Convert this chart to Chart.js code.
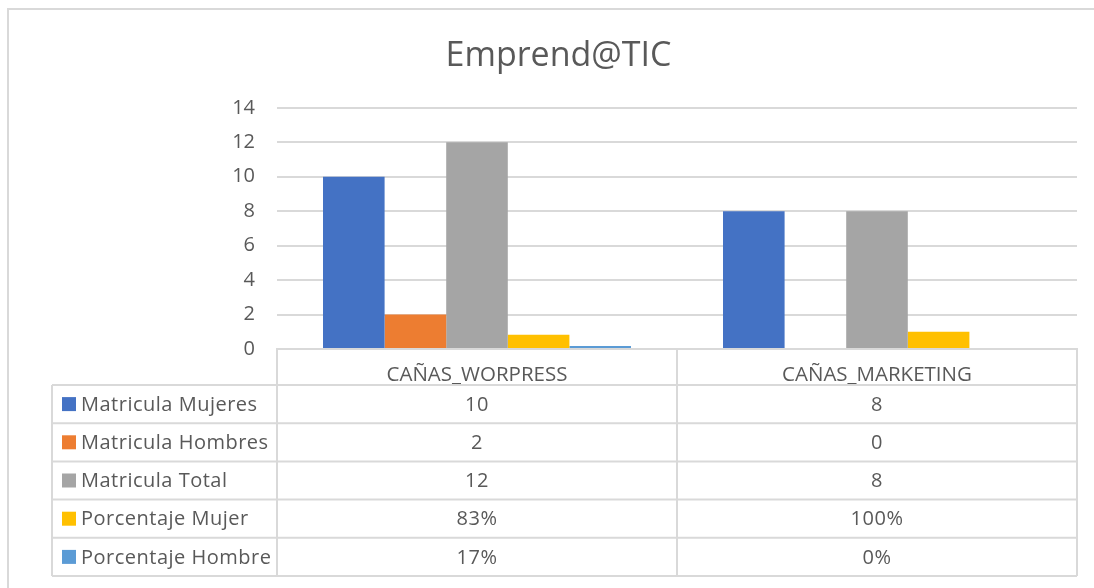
<!DOCTYPE html>
<html>
<head>
<meta charset="utf-8">
<script src="https://cdn.jsdelivr.net/npm/chart.js@4"></script>
<style>
  html, body { margin: 0; padding: 0; background: #fff; }
  #wrap { width: 1094px; height: 588px; }
</style>
</head>
<body>
<div id="wrap"><canvas id="myChart" width="1094" height="588"></canvas></div>
<script>
// Start Data
const categories = ['CAÑAS_WORPRESS', 'CAÑAS_MARKETING'];
const seriesNames = ['Matricula Mujeres', 'Matricula Hombres', 'Matricula Total', 'Porcentaje Mujer', 'Porcentaje Hombre'];
const matriculaMujeres = [10, 8];
const matriculaHombres = [2, 0];
const matriculaTotal = [12, 8];
const porcentajeMujer = [0.83, 1];
const porcentajeHombre = [0.17, 0];
const yTicks = [0, 2, 4, 6, 8, 10, 12, 14];
// !!End Data

const colors = ['#4472C4', '#ED7D31', '#A5A5A5', '#FFC000', '#5B9BD5'];
const seriesValues = [matriculaMujeres, matriculaHombres, matriculaTotal, porcentajeMujer, porcentajeHombre];
const isPercent = [false, false, false, true, true];
const textColor = '#595959';
const lineColor = '#D9D9D9';
const fontFamily = "'Open Sans', Lato, sans-serif";

function fmt(v, pct) {
    return pct ? Math.round(v * 100) + '%' : String(v);
}

// Start Table plugin
const tablePlugin = {
    id: 'dataTable',
    beforeDraw(chart) {
        const c = chart.ctx;
        c.save();
        c.fillStyle = '#fff';
        c.fillRect(0, 0, chart.width, chart.height);
        c.strokeStyle = lineColor;
        c.lineWidth = 2;
        c.beginPath();
        c.moveTo(8, chart.height + 5);
        c.lineTo(8, 9);
        c.lineTo(chart.width + 5, 9);
        c.stroke();
        c.restore();
    },
    afterDraw(chart) {
        const c = chart.ctx;
        const area = chart.chartArea;
        const x = chart.scales.x;
        const catW = (area.right - area.left) / categories.length;
        const top = area.bottom;
        const headerH = 36;
        const rowH = 38.2;
        const legendLeft = area.left - 225;
        const bottom = top + headerH + rowH * seriesNames.length;

        c.save();
        c.strokeStyle = lineColor;
        c.lineWidth = 2;
        c.beginPath();
        // vertical lines at category boundaries
        for (let i = 0; i <= categories.length; i++) {
            const px = area.left + catW * i;
            c.moveTo(px, top);
            c.lineTo(px, bottom);
        }
        c.moveTo(legendLeft, top + headerH);
        c.lineTo(legendLeft, bottom);
        // horizontal row lines
        for (let r = 0; r <= seriesNames.length; r++) {
            const py = top + headerH + rowH * r;
            c.moveTo(legendLeft, py);
            c.lineTo(area.right, py);
        }
        c.stroke();

        c.font = '20px ' + fontFamily;
        c.letterSpacing = '0.5px';
        c.textBaseline = 'middle';
        seriesNames.forEach(function (name, r) {
            const cy = top + headerH + rowH * r + rowH / 2;
            c.fillStyle = colors[r];
            c.fillRect(legendLeft + 10, cy - 7, 14, 14);
            c.fillStyle = textColor;
            c.textAlign = 'left';
            c.fillText(name, legendLeft + 29, cy + 1);
            c.textAlign = 'center';
            seriesValues[r].forEach(function (v, i) {
                c.fillText(fmt(v, isPercent[r]), x.getPixelForValue(i), cy + 1);
            });
        });
        c.restore();
    }
};
// !!End Table plugin

const ctx = document.getElementById('myChart').getContext('2d');

new Chart(ctx, {
    type: 'bar',
    data: {
        labels: categories,
        datasets: seriesNames.map(function (name, i) {
            return {
                label: name,
                data: seriesValues[i],
                backgroundColor: colors[i],
                borderWidth: 0,
                categoryPercentage: 0.77,
                barPercentage: 1
            };
        })
    },
    plugins: [tablePlugin],
    options: {
        responsive: false,
        animation: false,
        layout: {
            padding: { left: 40, right: 17, top: 0, bottom: 0 }
        },
        scales: {
            y: {
                min: 0,
                max: 14,
                afterBuildTicks: function (s) {
                    s.ticks = yTicks.map(function (v) { return { value: v }; });
                },
                afterFit: function (s) { s.width = 237; },
                grid: { color: lineColor, lineWidth: 2, drawTicks: false },
                border: { display: false },
                ticks: {
                    padding: 22,
                    color: textColor,
                    font: { size: 20, family: fontFamily }
                }
            },
            x: {
                afterFit: function (s) { s.height = 239; },
                grid: { display: false },
                border: { color: lineColor, width: 2 },
                ticks: {
                    padding: 6,
                    color: textColor,
                    font: { size: 20.5, family: fontFamily }
                }
            }
        },
        plugins: {
            legend: { display: false },
            tooltip: { enabled: false },
            title: {
                display: true,
                text: 'Emprend@TIC',
                color: textColor,
                font: { size: 34, family: fontFamily, weight: 'normal' },
                padding: { top: 36, bottom: 31 }
            }
        }
    }
});
</script>
</body>
</html>
